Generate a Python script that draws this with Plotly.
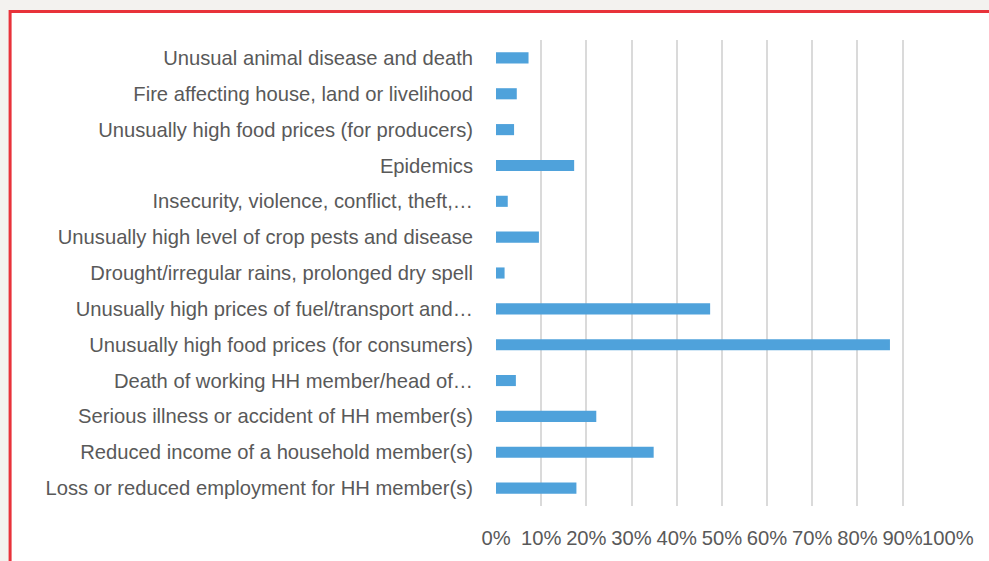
import plotly.graph_objects as go

# categories listed bottom -> top (plotly draws first category at the bottom)
categories = [
    "Loss or reduced employment for HH member(s)",
    "Reduced income of a household member(s)",
    "Serious illness or accident of HH member(s)",
    "Death of working HH member/head of…",
    "Unusually high food prices (for consumers)",
    "Unusually high prices of fuel/transport and…",
    "Drought/irregular rains, prolonged dry spell",
    "Unusually high level of crop pests and disease",
    "Insecurity, violence, conflict, theft,…",
    "Epidemics",
    "Unusually high food prices (for producers)",
    "Fire affecting house, land or livelihood",
    "Unusual animal disease and death",
]
shares = [0.178, 0.349, 0.222, 0.044, 0.872, 0.474, 0.019, 0.095, 0.026, 0.173, 0.040, 0.046, 0.072]

tick_vals = [i / 10 for i in range(11)]
tick_text = [f"{i * 10}%" for i in range(11)]

text_col = "#595959"
font_fam = "Liberation Sans, Arial, sans-serif"
fsize = 20.2

fig = go.Figure()
fig.add_trace(
    go.Bar(
        x=shares,
        y=categories,
        orientation="h",
        width=0.31,
        marker=dict(color="#4FA2DB", line=dict(width=0)),
        showlegend=False,
    )
)

# red frame round the chart (screenshot border)
fig.add_shape(
    type="rect",
    xref="paper",
    yref="paper",
    x0=-1.075,
    x1=1.12,
    y0=-0.16,
    y1=1.061,
    line=dict(color="#E8323A", width=3),
    fillcolor="white",
    layer="below",
)

fig.update_layout(
    width=989,
    height=561,
    margin=dict(l=496, r=41, t=40, b=55, autoexpand=False),
    paper_bgcolor="#F3F2EF",
    plot_bgcolor="white",
    font=dict(family=font_fam, size=fsize, color=text_col),
    bargap=0.69,
)
fig.update_xaxes(
    range=[0, 1.0005],
    tickvals=tick_vals,
    ticktext=tick_text,
    tickangle=0,
    automargin=False,
    showgrid=True,
    gridcolor="#DADADA",
    gridwidth=2,
    zeroline=False,
    showline=False,
    ticks="",
    ticklabelstandoff=18,
    tickfont=dict(size=fsize, color=text_col),
)
fig.update_yaxes(
    categoryorder="array",
    categoryarray=categories,
    automargin=False,
    showgrid=False,
    showline=False,
    ticks="",
    ticklabelstandoff=22,
    tickfont=dict(size=fsize, color=text_col),
)

fig.write_html(
    "out.html",
    config={"displayModeBar": False},
    post_script="document.body.style.margin='0';document.body.style.background='#F3F2EF';",
)
